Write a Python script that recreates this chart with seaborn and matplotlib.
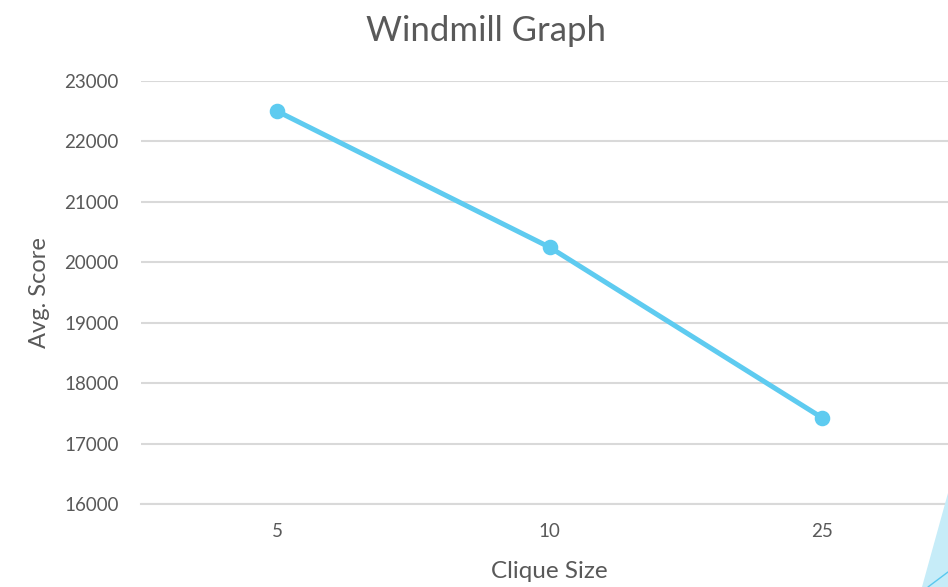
import matplotlib
matplotlib.use("Agg")
import matplotlib.pyplot as plt
from matplotlib.patches import Polygon
from matplotlib.lines import Line2D
import seaborn as sns
import pandas as pd

clique_sizes = ["5", "10", "25"]
avg_scores = [22500, 20250, 17430]
y_ticks = [16000, 17000, 18000, 19000, 20000, 21000, 22000, 23000]

df = pd.DataFrame({"Clique Size": clique_sizes, "Avg. Score": avg_scores})

sns.set_style("white")
plt.rcParams["font.family"] = ["Lato", "DejaVu Sans"]
text_col = "#595959"
line_col = "#5ecbf0"

fig = plt.figure(figsize=(9.48, 5.87), dpi=100)
ax = fig.add_axes([141 / 948, 1 - 504 / 587, 817 / 948, 423 / 587])

sns.pointplot(data=df, x="Clique Size", y="Avg. Score", color=line_col,
              linewidth=3.6, markersize=8.5, ax=ax)

ax.set_ylim(16000, 23000)
ax.set_yticks(y_ticks)
ax.set_xlim(-0.5, 2.5)
ax.yaxis.grid(True, color="#d9d9d9", linewidth=1.5)
ax.set_axisbelow(True)
for s in ax.spines.values():
    s.set_visible(False)
ax.spines["bottom"].set_visible(True)
ax.spines["bottom"].set_color("#d9d9d9")
ax.spines["bottom"].set_linewidth(1.5)
ax.tick_params(length=0, labelsize=13.5, labelcolor=text_col)
ax.tick_params(axis="x", pad=14)
ax.tick_params(axis="y", pad=16)
ax.set_xlabel("Clique Size", fontsize=17.5, color=text_col, labelpad=15)
ax.set_ylabel("Avg. Score", fontsize=17, color=text_col, labelpad=10)
fig.text(0.513, 0.947, "Windmill Graph", fontsize=25, color=text_col,
         ha="center", va="center")

# slide decoration in the bottom-right corner
fig.add_artist(Polygon([(948 / 948, 1 - 493 / 587), (1, 0), (922 / 948, 0)],
                       closed=True, transform=fig.transFigure,
                       facecolor="#c6ecf8", edgecolor="none"))
fig.add_artist(Line2D([928 / 948, 1], [0, 1 - 572 / 587],
                      transform=fig.transFigure, color="#5bc8ee", linewidth=1))

fig.savefig("out.png", dpi=100)
